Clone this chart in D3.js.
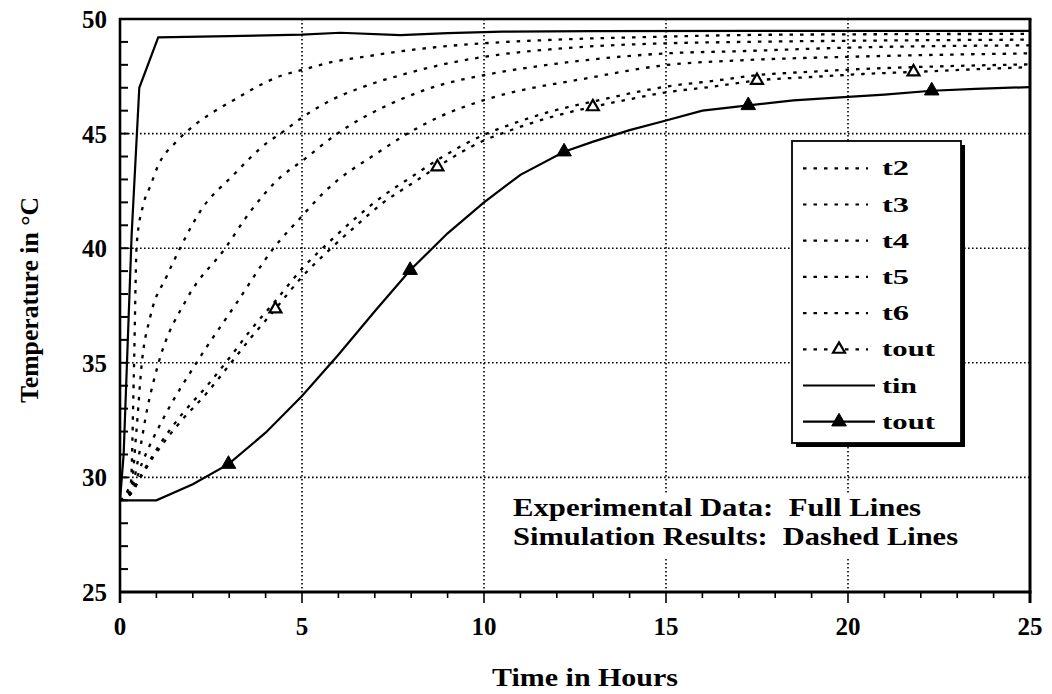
<!DOCTYPE html>
<html>
<head>
<meta charset="utf-8">
<script src="https://cdn.jsdelivr.net/npm/d3@7"></script>
<style>
  html, body { margin: 0; padding: 0; background: #fff; }
  svg text { font-family: "Liberation Serif", "Times New Roman", serif; font-weight: bold; fill: #000; white-space: pre; }
</style>
</head>
<body>
<svg id="chart" width="1052" height="694"></svg>
<script>
// ---- Measured data: inlet / outlet temperature (experiment) ----
const tinTime  = [0, 0.1, 0.32, 0.53, 1.05, 3, 5, 6.05, 7.7, 9, 10.5, 13, 18, 25];
const tinTemp  = [29.0, 31.0, 40.6, 47.0, 49.2, 49.25, 49.32, 49.4, 49.3, 49.38, 49.45, 49.47, 49.48, 49.48];

const toutExpTime = [0, 1.0, 2.0, 2.98, 4.0, 5.0, 6.0, 7.0, 7.97, 9.0, 10.0, 11.0, 12.2, 13.0, 14.0, 15.0, 16.0, 17.26, 18.5, 20.0, 21.0, 22.3, 23.5, 25.0];
const toutExpTemp = [29.0, 29.0, 29.7, 30.58, 31.95, 33.55, 35.35, 37.25, 39.04, 40.65, 42.0, 43.2, 44.21, 44.65, 45.15, 45.57, 46.0, 46.23, 46.45, 46.6, 46.7, 46.87, 46.95, 47.03];
const toutExpMarks = [2.98, 7.97, 12.2, 17.26, 22.3];

// ---- Simulated layer temperatures ----
const t2Time = [0, 0.3, 0.38, 0.46, 0.64, 0.83, 1.06, 1.52, 2.07, 2.62, 3.12, 3.76, 4.3, 5.05, 5.88, 6.7, 7.62, 8.8, 10, 12, 15, 17.1, 20, 25];
const t2Temp = [29.0, 29.8, 34.5, 40.2, 41.9, 42.7, 43.65, 44.6, 45.4, 46.0, 46.46, 47.04, 47.45, 47.8, 48.14, 48.35, 48.57, 48.79, 48.94, 49.1, 49.23, 49.3, 49.33, 49.35];

const t3Time = [0, 0.3, 0.45, 0.6, 0.83, 1.29, 1.65, 2.2, 3.12, 4.04, 4.41, 5.0, 5.79, 6.7, 7.71, 8.8, 10, 12, 15, 17.1, 20, 25];
const t3Temp = [29.0, 29.5, 32.0, 35.0, 37.0, 38.8, 40.0, 41.6, 43.2, 44.6, 45.0, 45.7, 46.45, 47.05, 47.55, 47.99, 48.35, 48.7, 48.94, 49.0, 49.05, 49.1];

const t4Time = [0, 0.3, 0.5, 0.75, 1.06, 1.84, 2.89, 3.58, 4.41, 5.0, 5.97, 7.62, 8.8, 10, 12, 15, 17.1, 20, 25];
const t4Temp = [29.0, 29.4, 30.8, 33.0, 35.0, 37.8, 40.0, 41.6, 43.1, 43.8, 45.0, 46.43, 47.12, 47.55, 48.05, 48.5, 48.6, 48.75, 48.85];

const t5Time = [0, 0.3, 0.6, 1.2, 2.1, 3.2, 4.22, 5.0, 5.6, 7.16, 7.9, 8.8, 10, 12.95, 15, 17.1, 20, 25];
const t5Temp = [29.0, 29.3, 30.6, 32.6, 35.0, 37.6, 40.0, 41.4, 42.43, 44.25, 45.0, 45.75, 46.46, 47.45, 47.99, 48.2, 48.35, 48.5];

const simTime   = [0, 0.3, 0.6, 0.92, 1.1, 1.7, 2.34, 3.0, 3.6, 4.27, 5.0, 5.8, 6.5, 7.2, 8.0, 8.72, 10, 10.65, 11.8, 12.99, 14, 15, 16.3, 17.5, 19, 20.4, 21.8, 23.4, 25];
const t6Temp    = [29.0, 29.3, 30.15, 31.0, 31.45, 32.75, 33.9, 35.2, 36.45, 37.7, 39.1, 40.35, 41.35, 42.25, 43.1, 43.85, 44.95, 45.35, 45.95, 46.4, 46.75, 47.05, 47.3, 47.55, 47.7, 47.82, 47.9, 47.97, 48.02];
const toutSimTemp = [29.0, 29.3, 30.1, 30.9, 31.3, 32.5, 33.6, 34.9, 36.1, 37.35, 38.75, 40.0, 41.0, 41.95, 42.8, 43.55, 44.7, 45.1, 45.7, 46.17, 46.5, 46.8, 47.05, 47.32, 47.47, 47.6, 47.69, 47.8, 47.9];
const toutSimMarks = [4.27, 8.72, 12.99, 17.5, 21.8];

// ---- Axis ticks and texts ----
const xTicks = [0, 5, 10, 15, 20, 25];
const yTicks = [25, 30, 35, 40, 45, 50];
const legendLabels = ["t2", "t3", "t4", "t5", "t6", "tout", "tin", "tout"];
const xTitle = "Time in Hours";
const yTitle = "Temperature in °C";
const noteLines = ["Experimental Data:  Full Lines", "Simulation Results:  Dashed Lines"];

// ---- Layout ----
const svg = d3.select("#chart");
const W = 1052, H = 694;
const x = d3.scaleLinear().domain([0, 25]).range([120, 1030]);
const y = d3.scaleLinear().domain([25, 50]).range([592, 19]);
const DASH = "3.5,7";
const OPEN_SIZE = 62, FILLED_SIZE = 92;

svg.append("rect").attr("width", W).attr("height", H).attr("fill", "#fff");

const zip = (ts, vs) => ts.map((t, i) => ({ t, v: vs[i] }));

// grid
const grid = svg.append("g").attr("stroke", "#000").attr("stroke-width", 1.6).attr("stroke-dasharray", "1.6,2.4");
grid.selectAll("line.v").data(xTicks.slice(1, -1)).join("line")
  .attr("x1", d => x(d)).attr("x2", d => x(d)).attr("y1", y(50)).attr("y2", y(25));
grid.selectAll("line.h").data(yTicks.slice(1, -1)).join("line")
  .attr("x1", x(0)).attr("x2", x(25)).attr("y1", d => y(d)).attr("y2", d => y(d));

// note box background
svg.append("rect").attr("x", 500).attr("y", 493).attr("width", 470).attr("height", 64).attr("fill", "#fff");

// curves
const series = [
  { data: zip(t2Time, t2Temp), dash: DASH, curve: d3.curveMonotoneX },
  { data: zip(t3Time, t3Temp), dash: DASH, curve: d3.curveMonotoneX },
  { data: zip(t4Time, t4Temp), dash: DASH, curve: d3.curveMonotoneX },
  { data: zip(t5Time, t5Temp), dash: DASH, curve: d3.curveMonotoneX },
  { data: zip(simTime, t6Temp), dash: DASH, curve: d3.curveMonotoneX },
  { data: zip(simTime, toutSimTemp), dash: DASH, curve: d3.curveMonotoneX, marks: toutSimMarks, open: true },
  { data: zip(tinTime, tinTemp), dash: null, curve: d3.curveLinear },
  { data: zip(toutExpTime, toutExpTemp), dash: null, curve: d3.curveLinear, marks: toutExpMarks, open: false }
];

const tri = d3.symbol().type(d3.symbolTriangle);
const lineGen = c => d3.line().x(d => x(d.t)).y(d => y(d.v)).curve(c);

series.forEach(s => {
  svg.append("path").datum(s.data)
    .attr("d", lineGen(s.curve))
    .attr("fill", "none").attr("stroke", "#000")
    .attr("stroke-width", s.dash ? 2.3 : 2.2)
    .attr("stroke-dasharray", s.dash);
});
series.filter(s => s.marks).forEach(s => {
  const pts = s.data.filter(d => s.marks.includes(d.t));
  svg.selectAll(null).data(pts).join("path")
    .attr("transform", d => `translate(${x(d.t)},${y(d.v)})`)
    .attr("d", tri.size(s.open ? OPEN_SIZE : FILLED_SIZE)())
    .attr("fill", s.open ? "#fff" : "#000")
    .attr("stroke", "#000").attr("stroke-width", s.open ? 2.2 : 1);
});

// frame and axes
const frame = svg.append("g").attr("stroke", "#000").attr("fill", "none");
frame.append("line").attr("x1", x(0)).attr("x2", x(0)).attr("y1", y(50) - 1).attr("y2", y(25) + 11).attr("stroke-width", 2.6);
frame.append("line").attr("x1", x(0) - 1).attr("x2", x(25) + 1.5).attr("y1", y(25)).attr("y2", y(25)).attr("stroke-width", 3);
frame.append("line").attr("x1", x(0) - 1).attr("x2", x(25) + 1.5).attr("y1", y(50)).attr("y2", y(50)).attr("stroke-width", 2.6);
frame.append("line").attr("x1", x(25)).attr("x2", x(25)).attr("y1", y(50)).attr("y2", y(25) + 11).attr("stroke-width", 3);

// minor ticks
frame.selectAll("line.yt").data(d3.range(26, 50)).join("line")
  .attr("x1", x(0)).attr("x2", x(0) + 8).attr("y1", d => y(d)).attr("y2", d => y(d)).attr("stroke-width", 2);
frame.selectAll("line.xt").data(d3.range(1, 25)).join("line")
  .attr("x1", d => x(d)).attr("x2", d => x(d)).attr("y1", y(25)).attr("y2", d => y(25) + (d % 5 === 0 ? 11 : 6)).attr("stroke-width", 1.6);

// tick labels
svg.selectAll("text.yl").data(yTicks).join("text")
  .attr("x", 107).attr("y", d => y(d) + 9)
  .attr("text-anchor", "end").attr("font-size", 25)
  .text(d => d);
svg.selectAll("text.xl").data(xTicks).join("text")
  .attr("x", d => x(d)).attr("y", 635)
  .attr("text-anchor", "middle").attr("font-size", 25)
  .text(d => d);

// axis titles
svg.append("text").attr("x", 585).attr("y", 686).attr("text-anchor", "middle")
  .attr("font-size", 25).attr("textLength", 186).attr("lengthAdjust", "spacingAndGlyphs").text(xTitle);
svg.append("text").attr("transform", "translate(38,300) rotate(-90)").attr("text-anchor", "middle")
  .attr("font-size", 25).attr("textLength", 206).attr("lengthAdjust", "spacingAndGlyphs").text(yTitle);

// note
const noteW = [408, 445];
noteLines.forEach((s, i) => {
  svg.append("text").attr("x", 513).attr("y", 516 + i * 29).attr("font-size", 25)
    .attr("textLength", noteW[i]).attr("lengthAdjust", "spacingAndGlyphs").text(s);
});

// legend
const lg = svg.append("g");
const bx = 792, by = 141, bw = 169, bh = 302;
lg.append("rect").attr("x", bx + 4).attr("y", by + 4).attr("width", bw).attr("height", bh).attr("fill", "#000");
lg.append("rect").attr("x", bx).attr("y", by).attr("width", bw).attr("height", bh)
  .attr("fill", "#fff").attr("stroke", "#000").attr("stroke-width", 1.8);
const legW = { "t2": 27, "t3": 27, "t4": 27, "t5": 27, "t6": 27, "tout": 53, "tin": 35 };
legendLabels.forEach((lab, i) => {
  const s = series[i];
  const cy = 168.3 + i * 36.2;
  lg.append("line").attr("x1", 803).attr("x2", s.dash ? 868 : 875).attr("y1", cy).attr("y2", cy)
    .attr("stroke", "#000").attr("stroke-width", 2.2).attr("stroke-dasharray", s.dash);
  if (s.marks) {
    lg.append("path").attr("transform", `translate(839,${cy})`)
      .attr("d", tri.size(s.open ? OPEN_SIZE : FILLED_SIZE)())
      .attr("fill", s.open ? "#fff" : "#000").attr("stroke", "#000").attr("stroke-width", s.open ? 2.2 : 1);
  }
  lg.append("text").attr("x", 882).attr("y", cy + 7).attr("font-size", 22)
    .attr("textLength", legW[lab]).attr("lengthAdjust", "spacingAndGlyphs").text(lab);
});
</script>
</body>
</html>
